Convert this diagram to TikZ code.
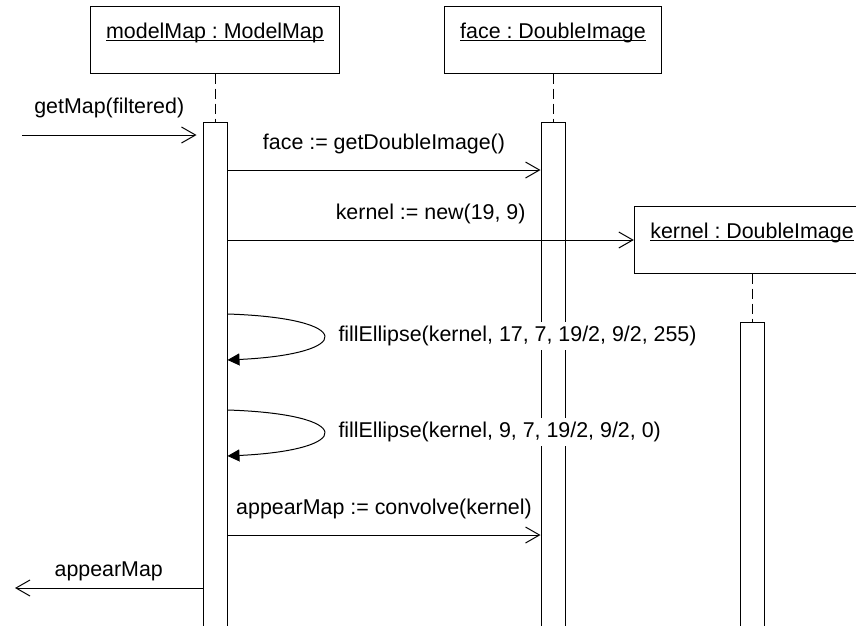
\documentclass[tikz,border=0pt]{standalone}
\usepackage{fontspec}
\setmainfont{Liberation Sans}
\usetikzlibrary{arrows.meta,positioning}
\frenchspacing

\begin{document}
\begin{tikzpicture}[x=1pt,y=-1pt,line width=1pt,font=\fontsize{21.4}{25}\selectfont,
  obj/.style={draw,fill=white,minimum height=67pt,inner xsep=16pt},
  actbar/.style={draw,fill=white,minimum width=24pt,minimum height=520pt,inner sep=0pt,anchor=north},
  life/.style={dash pattern=on 10pt off 5pt},
  msg/.style={-{Straight Barb[length=14pt,width=16pt]}},
  selfmsg/.style={-{Triangle[length=12pt,width=12pt]}},
  lbl/.style={anchor=base}]
\path[use as bounding box,clip] (0,0) rectangle (856,625);
\foreach \nm/\x/\y/\top/\txt in {mm/215/39.5/122/{modelMap : ModelMap}, face/553/39.5/122/{face : DoubleImage}, kern/752/239.5/322/{kernel : DoubleImage}} {
  \node[obj] (\nm) at (\x,\y) {\underline{\smash{\txt}}};
  \node[actbar] (\nm-act) at (\x,\top) {};
  \draw[life] (\nm) -- (\nm-act);
}
\coordinate (in) at (22,135);
\draw[msg] (in) -- ([xshift=-6pt]mm-act.west |- in) node[lbl,midway,yshift=22pt] (call) {getMap(filtered)};
\foreach \y/\dst/\txt/\n in {170/face-act/{face := getDoubleImage()}/1, 240/kern/{kernel := new(19, 9)}/2, 535/face-act/{appearMap := convolve(kernel)}/3} {
  \coordinate (r\n) at (0,\y);
  \draw[msg] (mm-act.east |- r\n) -- (\dst.west |- r\n) node[lbl,midway,yshift=21pt] (m\n) {\txt};
}
\foreach \ya/\yb/\ym/\txt/\n in {314/360/336/{fillEllipse(kernel, 17, 7, 19/2, 9/2, 255)}/1, 410/456/432/{fillEllipse(kernel, 9, 7, 19/2, 9/2, 0)}/2} {
  \coordinate (s\n) at (0,\ya);
  \coordinate (e\n) at (0,\yb);
  \draw[selfmsg] (mm-act.east |- s\n) .. controls +(128,4) and +(128,-6) .. (mm-act.east |- e\n);
  \node[anchor=west,fill=white,inner xsep=0pt,inner ysep=4pt] (f\n) at (338,\ym) {\txt};
}
\coordinate (out) at (15,588);
\draw[msg] (mm-act.west |- out) -- (out) node[lbl,midway,yshift=12pt] (ret) {appearMap};
\end{tikzpicture}
\end{document}
